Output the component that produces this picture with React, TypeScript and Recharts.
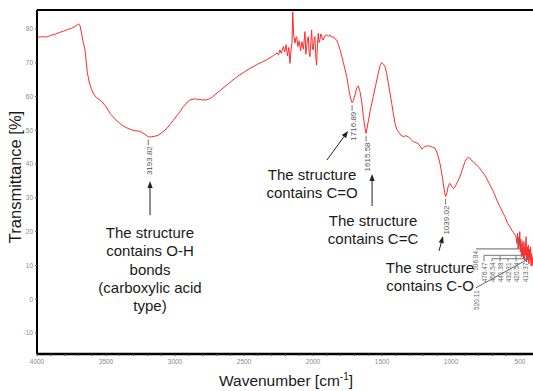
import React from "react";
import { LineChart, Line, XAxis, YAxis, ReferenceLine, ReferenceDot, Label } from "recharts";

// spectrum (wavenumber, %T)
const WAVENUMBERS = [
  4000, 3960, 3930, 3900, 3870, 3840, 3810, 3780, 3750, 3725, 3705, 3697, 3688, 3676, 3665, 3652, 3635, 3620,
  3604, 3585, 3568, 3545, 3531, 3500, 3471, 3440, 3413, 3380, 3348, 3320, 3290, 3254, 3225, 3203, 3194, 3170,
  3140, 3123, 3090, 3058, 3030, 3000, 2964, 2940, 2910, 2891, 2860, 2843, 2800, 2770, 2740, 2725, 2690, 2652,
  2615, 2580, 2545, 2507, 2470, 2435, 2400, 2362, 2330, 2312, 2285, 2261, 2250, 2240, 2230, 2215, 2205, 2195,
  2185, 2175, 2167, 2160, 2152, 2147, 2140, 2130, 2124, 2118, 2110, 2100, 2090, 2081, 2070, 2058, 2052, 2046,
  2040, 2034, 2028, 2022, 2016, 2010, 2004, 1998, 1992, 1986, 1980, 1974, 1968, 1962, 1956, 1950, 1944, 1938,
  1932, 1926, 1914, 1901, 1890, 1877, 1865, 1853, 1840, 1828, 1816, 1804, 1792, 1780, 1768, 1756, 1740, 1728,
  1717, 1708, 1695, 1683, 1672, 1660, 1647, 1635, 1623, 1616, 1600, 1585, 1563, 1545, 1527, 1514, 1502, 1490,
  1478, 1466, 1454, 1442, 1430, 1418, 1406, 1394, 1382, 1364, 1346, 1328, 1309, 1290, 1273, 1255, 1237, 1224,
  1212, 1200, 1188, 1170, 1152, 1134, 1116, 1098, 1080, 1068, 1056, 1046, 1039, 1030, 1020, 1010, 1000, 990,
  980, 968, 955, 935, 915, 899, 887, 875, 865, 850, 838, 826, 814, 802, 790, 778, 766, 750, 730, 712, 693, 680,
  669, 650, 630, 609, 590, 575, 560, 548, 536, 528, 522, 518, 514, 510, 506, 502, 498, 494, 490, 486, 482, 478,
  476, 472, 468, 464, 460, 456, 452, 448, 444, 440, 436, 432, 428, 424, 420, 416, 412, 408,
];

const TRANSMITTANCE = [
  77.5, 77.7, 77.6, 78.1, 78.4, 78.9, 79.3, 79.8, 80.2, 80.7, 81.3, 81.5, 80.9, 78.5, 76.0, 73.8, 67.0, 64.0,
  62.0, 60.5, 59.6, 59.0, 58.5, 57.0, 55.0, 53.6, 52.5, 51.4, 50.7, 50.2, 49.9, 49.7, 49.0, 48.4, 48.0, 48.1,
  48.3, 48.5, 49.5, 50.6, 52.0, 53.6, 55.5, 57.0, 58.4, 59.0, 59.3, 59.2, 59.0, 59.0, 59.5, 60.0, 61.2, 62.5,
  63.7, 64.9, 66.0, 67.0, 68.0, 68.8, 69.6, 70.3, 71.0, 71.4, 72.2, 72.9, 72.3, 73.8, 72.8, 74.8, 73.2, 75.3,
  72.0, 74.5, 69.8, 73.5, 76.0, 85.1, 78.0, 75.8, 77.5, 77.7, 74.8, 76.5, 73.5, 76.2, 74.0, 79.2, 72.5, 74.8,
  77.0, 77.7, 73.0, 71.8, 76.0, 79.7, 74.0, 73.8, 77.0, 77.7, 72.0, 69.3, 75.0, 78.7, 76.0, 76.7, 78.5, 78.2,
  77.0, 76.7, 78.0, 78.2, 77.8, 78.2, 77.5, 77.7, 77.0, 76.7, 75.4, 73.8, 72.0, 70.0, 68.0, 65.9, 62.0, 59.5,
  58.2, 58.8, 60.5, 62.6, 63.1, 61.5, 58.5, 54.0, 50.5, 49.1, 52.5, 56.0, 60.0, 63.5, 66.9, 69.2, 70.0, 69.6,
  68.8, 66.8, 63.9, 61.0, 58.0, 55.0, 52.1, 50.3, 49.6, 48.6, 48.1, 48.4, 48.1, 47.3, 46.6, 46.4, 46.0, 45.3,
  44.4, 44.9, 45.2, 45.4, 45.3, 45.0, 44.7, 43.0, 40.2, 37.5, 34.3, 31.5, 30.4, 31.5, 33.5, 34.3, 33.8, 33.1,
  32.8, 33.5, 34.6, 36.3, 38.8, 40.7, 41.6, 42.0, 41.8, 41.0, 40.7, 40.2, 39.7, 39.2, 38.6, 38.0, 37.3, 36.4,
  34.8, 33.4, 31.8, 30.6, 29.4, 27.8, 26.1, 24.4, 22.5, 21.6, 20.5, 19.8, 19.0, 18.5, 16.5, 19.5, 15.0, 18.2,
  16.0, 20.0, 14.0, 17.8, 12.5, 16.5, 13.0, 17.2, 12.0, 15.5, 11.5, 16.8, 13.0, 18.5, 11.0, 15.5, 12.0, 16.0,
  10.5, 14.8, 11.5, 15.5, 9.8, 13.5, 10.0, 12.5,
];

const X_TICKS = [
  4000, 3900, 3800, 3700, 3600, 3500, 3400, 3300, 3200, 3100, 3000, 2900, 2800, 2700, 2600, 2500, 2400, 2300,
  2200, 2100, 2000, 1900, 1800, 1700, 1600, 1500, 1400, 1300, 1200, 1100, 1000, 900, 800, 700, 600, 500,
];
const X_LABELS = [4000, 3500, 3000, 2500, 2000, 1500, 1000, 500];
const Y_TICKS = [-10, 0, 10, 20, 30, 40, 50, 60, 70, 80];

// labelled minima
const PEAK_WAVENUMBERS = [3193.82, 1716.89, 1615.58, 1039.02];
const PEAK_VALUES = [48.0, 58.2, 49.1, 30.4];

// crowded labels at the low-wavenumber end
const CLUSTER_LABELS = ["476.47", "456.54", "441.38", "432.31", "420.54", "413.37"];

const NOTES = [
  { lines: ["The structure", "contains O-H", "bonds", "(carboxylic acid", "type)"], w: 3181, v: 19.9 },
  { lines: ["The structure", "contains C=O"], w: 2007, v: 37.1 },
  { lines: ["The structure", "contains C=C"], w: 1565, v: 23.5 },
  { lines: ["The structure", "contains C-O"], w: 1152, v: 9.5 },
];

const ARROWS = [
  [3181, 24.9, 3181, 35.0],
  [1899, 41.2, 1746, 49.8],
  [1572, 27.6, 1572, 37.1],
  [1087, 14.3, 1058, 18.7],
];

const data = WAVENUMBERS.map((w, i) => ({ w, t: TRANSMITTANCE[i] }));

const Y_MIN = -16.2;
const Y_MAX = 85.6;
const NARROW = "'Liberation Sans Narrow', 'Liberation Sans', Arial, sans-serif";
const SANS = "'Liberation Sans', Arial, sans-serif";

function Arrow(props: any) {
  const { x1, y1, x2, y2 } = props;
  const ang = Math.atan2(y2 - y1, x2 - x1);
  const len = 7;
  const half = 2.6;
  const bx = x2 - len * Math.cos(ang);
  const by = y2 - len * Math.sin(ang);
  const nx = -Math.sin(ang) * half;
  const ny = Math.cos(ang) * half;
  return (
    <g>
      <line x1={x1} y1={y1} x2={bx} y2={by} stroke="#222" strokeWidth={1} />
      <polygon points={`${x2},${y2} ${bx + nx},${by + ny} ${bx - nx},${by - ny}`} fill="#222" />
    </g>
  );
}

function VText({ x, y, text, size = 8, color = "#555" }: any) {
  return (
    <text
      x={x}
      y={y}
      transform={`rotate(-90 ${x} ${y})`}
      textAnchor="end"
      dominantBaseline="central"
      fontFamily={SANS}
      fontSize={size}
      fill={color}
    >
      {text}
    </text>
  );
}

export default function App() {
  return (
    <div style={{ position: "absolute", left: 0, top: 0, background: "#fff" }}>
      <LineChart width={533} height={391} data={data} margin={{ top: 10, right: 0, bottom: 0, left: 0 }}>
        <XAxis
          type="number"
          dataKey="w"
          domain={[406, 4000]}
          reversed
          allowDataOverflow
          ticks={X_TICKS}
          tickFormatter={(v) => (X_LABELS.includes(v) ? String(v) : "")}
          height={37}
          axisLine={{ stroke: "#000", strokeWidth: 2.5 }}
          tickLine={{ stroke: "#555" }}
          tickSize={2}
          tickMargin={3}
          tick={{ fontSize: 6.5, fill: "#888", fontFamily: NARROW }}
        >
          <Label
            content={(p: any) => {
              const vb = p.viewBox;
              const cx = vb.x + vb.width / 2 + 1;
              return (
                <text x={cx} y={vb.y + 32} textAnchor="middle" fontFamily={NARROW} fontSize={15.5} fill="#1a1a1a">
                  Wavenumber [cm
                  <tspan dy={-6} fontSize={10}>-1</tspan>
                  <tspan dy={6}>]</tspan>
                </text>
              );
            }}
          />
        </XAxis>
        <YAxis
          type="number"
          domain={[Y_MIN, Y_MAX]}
          allowDataOverflow
          ticks={Y_TICKS}
          width={37}
          axisLine={{ stroke: "#000", strokeWidth: 2 }}
          tickLine={{ stroke: "#555" }}
          tickSize={2}
          tickMargin={2}
          tick={{ fontSize: 6.5, fill: "#888", fontFamily: NARROW }}
        >
          <Label
            content={(p: any) => {
              const vb = p.viewBox;
              const x = 15;
              const y = vb.y + vb.height / 2 - 5;
              return (
                <text
                  x={x}
                  y={y}
                  transform={`rotate(-90 ${x} ${y})`}
                  textAnchor="middle"
                  dominantBaseline="central"
                  fontFamily={SANS}
                  fontSize={16.5}
                  fill="#1a1a1a"
                >
                  Transmittance [%]
                </text>
              );
            }}
          />
        </YAxis>

        <ReferenceLine y={Y_MAX} stroke="#000" strokeWidth={2} />

        <Line
          type="linear"
          dataKey="t"
          stroke="#ff2b2b"
          strokeWidth={1}
          dot={false}
          isAnimationActive={false}
        />

        {PEAK_WAVENUMBERS.map((w, i) => (
          <ReferenceLine
            key={`pt-${w}`}
            segment={[
              { x: w, y: PEAK_VALUES[i] - 0.7 },
              { x: w, y: PEAK_VALUES[i] - 2.4 },
            ]}
            stroke="#777"
            strokeWidth={1}
          />
        ))}
        {PEAK_WAVENUMBERS.map((w, i) => (
          <ReferenceDot
            key={`pl-${w}`}
            x={w}
            y={PEAK_VALUES[i] - 2.7}
            r={0}
            shape={(p: any) => <VText x={p.cx + 1} y={p.cy} text={w.toFixed(2)} />}
          />
        ))}

        {/* crowded labels at the right end */}
        <ReferenceLine segment={[{ x: 819, y: 14.9 }, { x: 507, y: 14.9 }]} stroke="#666" />
        <ReferenceLine segment={[{ x: 507, y: 14.9 }, { x: 507, y: 18.6 }]} stroke="#666" />
        <ReferenceLine segment={[{ x: 819, y: 3.4 }, { x: 427, y: 12.2 }]} stroke="#666" />
        <ReferenceLine segment={[{ x: 761, y: 13.0 }, { x: 470, y: 13.0 }]} stroke="#777" />
        <ReferenceLine segment={[{ x: 703, y: 12.0 }, { x: 440, y: 12.0 }]} stroke="#777" />
        {[761, 703, 645, 587, 529, 457].map((w, i) => (
          <ReferenceLine
            key={`ct-${w}`}
            segment={[
              { x: w, y: 11.2 },
              { x: w, y: i % 2 === 0 ? 13.0 : 12.0 },
            ]}
            stroke="#777"
          />
        ))}
        <ReferenceDot
          x={819}
          y={14.3}
          r={0}
          shape={(p: any) => <VText x={p.cx} y={p.cy} text="506.84" size={6.5} color="#666" />}
        />
        <ReferenceDot
          x={819}
          y={2.6}
          r={0}
          shape={(p: any) => <VText x={p.cx} y={p.cy} text="520.11" size={6.5} color="#666" />}
        />
        {[761, 703, 645, 587, 529, 457].map((w, i) => (
          <ReferenceDot
            key={`cl-${w}`}
            x={w}
            y={10.9}
            r={0}
            shape={(p: any) => <VText x={p.cx} y={p.cy} text={CLUSTER_LABELS[i]} size={6.5} color="#666" />}
          />
        ))}

        {ARROWS.map(([xa, ya, xb, yb], i) => (
          <ReferenceLine
            key={`ar-${i}`}
            segment={[
              { x: xa, y: ya },
              { x: xb, y: yb },
            ]}
            shape={(p: any) => <Arrow {...p} />}
          />
        ))}

        {NOTES.map((n, i) => (
          <ReferenceDot
            key={`n-${i}`}
            x={n.w}
            y={n.v}
            r={0}
            shape={(p: any) => (
              <text
                x={p.cx}
                y={p.cy}
                textAnchor="middle"
                dominantBaseline="central"
                fontFamily={NARROW}
                fontSize={15}
                fill="#1a1a1a"
              >
                {n.lines.map((t, j) => (
                  <tspan key={j} x={p.cx} dy={j === 0 ? 0 : 18.3}>
                    {t}
                  </tspan>
                ))}
              </text>
            )}
          />
        ))}
      </LineChart>
    </div>
  );
}
